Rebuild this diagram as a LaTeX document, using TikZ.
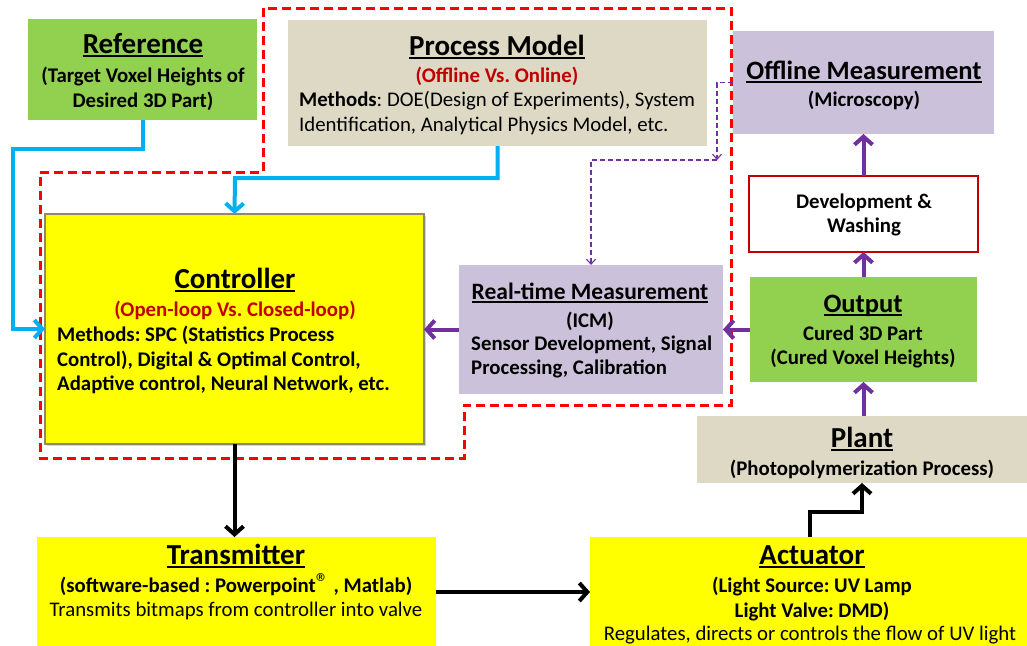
\documentclass[tikz,border=0pt]{standalone}
\usepackage{fontspec}
\setmainfont{Carlito}
\usetikzlibrary{arrows.meta,shadows}
\frenchspacing

\definecolor{leaf}{HTML}{92D050}
\definecolor{sand}{HTML}{DDD9C4}
\definecolor{lilac}{HTML}{CCC1DA}
\definecolor{lemon}{HTML}{FFFF00}
\definecolor{sky}{HTML}{00B0F0}
\definecolor{grape}{HTML}{7030A0}
\definecolor{crimson}{HTML}{C00000}
\definecolor{frame}{HTML}{8C8A6E}
\definecolor{loopred}{HTML}{FF0000}

% heading with a fixed-depth underline
\newcommand\ttl[1]{\setbox0=\hbox{#1}\rlap{\rule[-0.13em]{\wd0}{0.065em}}\box0}
% registered mark
\newcommand\regmark{\raisebox{0.05em}{\fontsize{26}{26}\selectfont\mdseries ®}}

\tikzset{
  box/.style={rectangle, inner sep=0pt, outer sep=0pt},
  head/.style={inner sep=0pt, font=\fontsize{29}{35}\selectfont\bfseries},
  midhead/.style={inner sep=0pt, font=\fontsize{26.5}{31}\selectfont\bfseries},
  smallhead/.style={inner sep=0pt, font=\fontsize{23.5}{28}\selectfont\bfseries},
  body/.style={inner sep=0pt, align=center, font=\fontsize{20.8}{24.5}\selectfont\bfseries},
  plain/.style={inner sep=0pt, align=center, font=\fontsize{20.8}{24.5}\selectfont},
  feed/.style={line width=4pt, -{Straight Barb[length=8pt,width=18pt]}},
  dashfeed/.style={grape, line width=1.1pt, dash pattern=on 5pt off 3pt,
    -{Straight Barb[length=5pt,width=9pt]}},
}

\begin{document}
\begin{tikzpicture}[x=1pt, y=-1pt]
\useasboundingbox (0,0) rectangle (1027,645);

% ---- blocks ----
\node[box, fill=leaf, minimum width=229pt, minimum height=101pt] (ref) at (142.5,69.5) {};
\node[box, fill=sand, minimum width=419pt, minimum height=126pt] (pm) at (497.5,83) {};
\node[box, fill=lilac, minimum width=261pt, minimum height=103pt] (off) at (863.5,82.5) {};
\node[box, fill=white, draw=crimson, line width=1.3pt, minimum width=229pt, minimum height=76pt] (dev) at (863.5,214) {};
\node[box, fill=leaf, minimum width=227pt, minimum height=105pt] (out) at (863.5,329.5) {};
\node[box, fill=sand, minimum width=330pt, minimum height=67pt] (plant) at (862,449.5) {};
\node[box, fill=lilac, minimum width=264pt, minimum height=129pt] (rt) at (591,329.5) {};
\node[box, fill=lemon, draw=frame, line width=2.5pt, minimum width=379pt, minimum height=230pt,
      drop shadow={shadow xshift=2pt, shadow yshift=-2pt, opacity=0.35}] (ctrl) at (234.5,329) {};
\node[box, fill=lemon, minimum width=399pt, minimum height=116pt] (tx) at (236.5,595) {};
\node[box, fill=lemon, minimum width=440pt, minimum height=116pt] (act) at (810,595) {};

% ---- closed-loop region ----
\draw[loopred, line width=3pt, dash pattern=on 9pt off 5pt]
  (40,172) -- (263,172) -- (263,8) -- (731,8) -- (731,405) -- (464,405) -- (464,458) -- (40,458) -- cycle;

% ---- texts ----
\node[head] at (143,45) {\ttl{Reference}};
\node[body] at (143,89) {(Target Voxel Heights of\\Desired 3D Part)};

\node[head] at (497,47) {\ttl{Process Model}};
\node[body, text=crimson] at (497,76) {(Offline Vs. Online)};
\node[plain, align=left, anchor=west] at (299,113) {\textbf{Methods}: DOE(Design of Experiments), System\\Identification, Analytical Physics Model, etc.};

\node[midhead] at (864,72) {\ttl{Offline Measurement}};
\node[body] at (864,100) {(Microscopy)};

\node[body] at (864,215) {Development \&\\Washing};

\node[head] at (235,280) {\ttl{Controller}};
\node[body, text=crimson] at (235,310) {(Open-loop Vs. Closed-loop)};
\node[body, align=left, anchor=west] at (57,360) {Methods: SPC (Statistics Process\\Control), Digital \& Optimal Control,\\Adaptive control, Neural Network, etc.};

\node[smallhead] at (590,293) {\ttl{Real-time Measurement}};
\node[body] at (590,321) {(ICM)};
\node[body, align=left, anchor=west] at (471,357) {Sensor Development, Signal\\Processing, Calibration};

\node[midhead] at (863,306) {\ttl{Output}};
\node[body] at (863,347) {Cured 3D Part\\(Cured Voxel Heights)};

\node[head] at (862,439) {\ttl{Plant}};
\node[body] at (862,469) {(Photopolymerization Process)};

\node[head] at (236,556) {\ttl{Transmitter}};
\node[body] at (236,585) {(software-based : Powerpoint\regmark{} , Matlab)};
\node[plain] at (236,611) {Transmits bitmaps from controller into valve};

\node[head] at (812,557) {\ttl{Actuator}};
\node[body] at (812,599) {(Light Source: UV Lamp\\Light Valve: DMD)};
\node[plain] at (810,635) {Regulates, directs or controls the flow of UV light};

% ---- connectors ----
\coordinate (refbend) at (13,149);
\coordinate (pmbend) at (235,178);
\coordinate (offdrop) at (717,160);
\coordinate (actbend) at (862,512);

\draw[feed, sky] (ref.south) |- (refbend) |- (ctrl.west);
\draw[feed, sky] (pm.south) |- (pmbend) -- (ctrl.north);

\draw[feed, grape] (rt.west) -- (ctrl.east |- rt.west);
\draw[feed, grape] (out.west) -- (rt.east |- out.west);
\draw[feed, grape] (out.south |- plant.north) -- (out.south);
\draw[feed, grape] (out.north) -- (dev.south);
\draw[feed, grape] (dev.north) -- (off.south);

\draw[dashfeed] (off.west) -| (offdrop);
\draw[dashfeed] (offdrop) -| (rt.north);

\draw[feed, black] (ctrl.south) -- (ctrl.south |- tx.north);
\draw[feed, black] (tx.east |- 0,592) -- (act.west |- 0,592);
\draw[feed, black] (act.north) |- (actbend) -- (plant.south);
\end{tikzpicture}
\end{document}
